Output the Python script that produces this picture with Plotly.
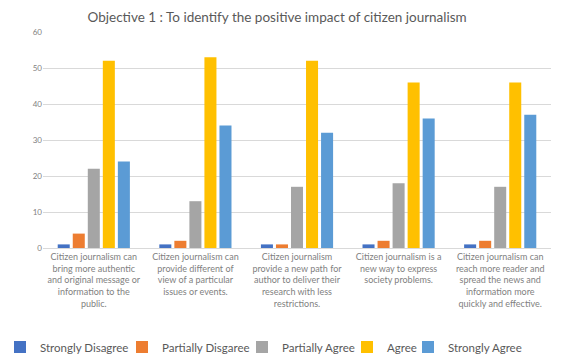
import plotly.graph_objects as go

categories = [
    "Citizen journalism can<br>bring more authentic<br>and original message or<br>information to the<br>public.",
    "Citizen journalism can<br>provide different of<br>view of a particular<br>issues or events.",
    "Citizen journalism<br>provide a new path for<br>author to deliver their<br>research with less<br>restrictions.",
    "Citizen journalism is a<br>new way to express<br>society problems.",
    "Citizen journalism can<br>reach more reader and<br>spread the news and<br>information more<br>quickly and effective.",
]
series_names = ["Strongly Disagree", "Partially Disgaree", "Partially Agree", "Agree", "Strongly Agree"]
strongly_disagree = [1, 1, 1, 1, 1]
partially_disagree = [4, 2, 1, 2, 2]
partially_agree = [22, 13, 17, 18, 17]
agree = [52, 53, 52, 46, 46]
strongly_agree = [24, 34, 32, 36, 37]
values = [strongly_disagree, partially_disagree, partially_agree, agree, strongly_agree]
colors = ["#4472C4", "#ED7D31", "#A5A5A5", "#FFC000", "#5B9BD5"]

legend_ids = ["legend", "legend2", "legend3", "legend4", "legend5"]
legend_left_px = [0, 122, 242, 347, 408]

fig = go.Figure()
for name, vals, c, lid in zip(series_names, values, colors, legend_ids):
    fig.add_trace(go.Bar(name=name, x=categories, y=vals, marker_color=c,
                         marker_line_width=0, legend=lid))

legend_layout = {}
for lid, lx in zip(legend_ids, legend_left_px):
    legend_layout[lid] = dict(orientation="h", xref="container", yref="container",
                              x=lx / 561, xanchor="left", y=0.025, yanchor="middle",
                              font=dict(size=11.5, color="#595959"), itemwidth=30,
                              bgcolor="rgba(0,0,0,0)")

fig.update_layout(
    width=561, height=356,
    margin=dict(l=43, r=10, t=32, b=108),
    paper_bgcolor="white", plot_bgcolor="white",
    barmode="group", bargap=0.26, bargroupgap=0.2,
    font=dict(family="Lato, Liberation Sans, sans-serif", color="#7F7F7F"),
    title=dict(text="Objective 1 : To identify the positive impact of citizen journalism",
               x=0.494, xanchor="center", y=0.952, yanchor="middle",
               font=dict(size=13.5, color="#595959")),
    showlegend=True,
    **legend_layout,
)
fig.update_yaxes(range=[0, 60], dtick=10, showgrid=True, gridcolor="#D9D9D9", gridwidth=1,
                 zeroline=False, showline=False, tickfont=dict(size=8, color="#7F7F7F"),
                 ticks="", ticklen=0, automargin=False)
fig.update_xaxes(showline=True, linecolor="#D9D9D9", linewidth=1, ticks="",
                 tickfont=dict(size=9, color="#7F7F7F"), tickangle=0, automargin=False)

fig.write_html("out.html")
